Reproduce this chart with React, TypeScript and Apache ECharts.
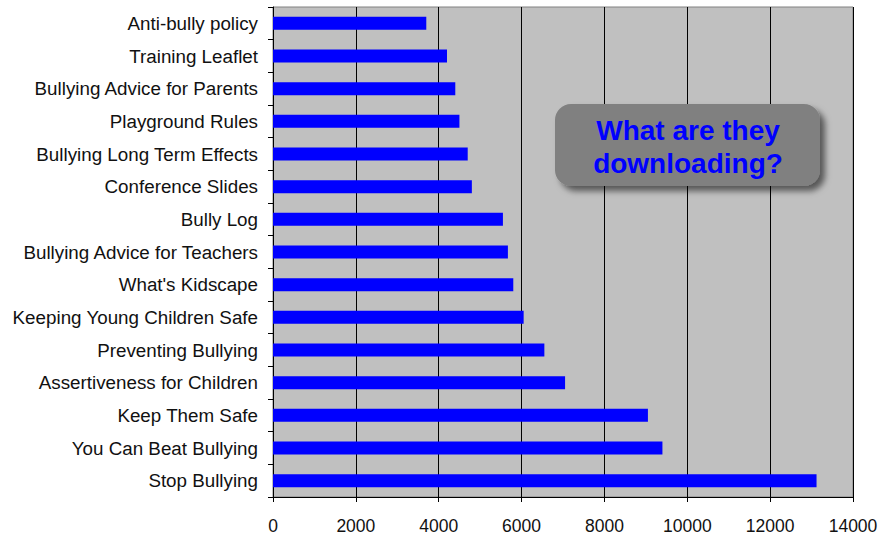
import React, { useEffect, useRef } from "react";
import * as echarts from "echarts";

const categories = [
  "Anti-bully policy",
  "Training Leaflet",
  "Bullying Advice for Parents",
  "Playground Rules",
  "Bullying Long Term Effects",
  "Conference Slides",
  "Bully Log",
  "Bullying Advice for Teachers",
  "What's Kidscape",
  "Keeping Young Children Safe",
  "Preventing Bullying",
  "Assertiveness for Children",
  "Keep Them Safe",
  "You Can Beat Bullying",
  "Stop Bullying",
];

const downloads = [
  3700, 4200, 4400, 4500, 4700, 4800, 5550, 5670, 5800, 6050, 6550, 7050, 9050,
  9400, 13120,
];

const calloutLines = ["What are they", "downloading?"];

export default function App() {
  const ref = useRef<HTMLDivElement>(null);

  useEffect(() => {
    if (!ref.current) return;
    const chart = echarts.init(ref.current, undefined, { renderer: "svg" });
    const font = "'Liberation Sans', Arial, sans-serif";
    chart.setOption({
      animation: false,
      backgroundColor: "#ffffff",
      grid: {
        left: 273,
        right: 35,
        top: 7,
        bottom: 37,
        show: true,
        backgroundColor: "#c0c0c0",
        borderColor: "#808080",
        borderWidth: 1,
      },
      xAxis: {
        type: "value",
        min: 0,
        max: 14000,
        interval: 2000,
        axisLine: { show: true, lineStyle: { color: "#000", width: 1 } },
        axisTick: { show: true, inside: false, length: 5, lineStyle: { color: "#000" } },
        splitLine: { show: true, lineStyle: { color: "#000", width: 1 } },
        axisLabel: {
          color: "#111",
          fontSize: 17.5,
          fontFamily: font,
          margin: 20,
          formatter: (v: number) => String(v),
        },
      },
      yAxis: {
        type: "category",
        inverse: true,
        data: categories,
        axisLine: { show: true, lineStyle: { color: "#000", width: 1 } },
        axisTick: { show: true, inside: false, length: 5, alignWithLabel: false, lineStyle: { color: "#000" } },
        splitLine: { show: false },
        axisLabel: {
          color: "#111",
          fontSize: 18.8,
          fontFamily: font,
          margin: 15,
        },
      },
      series: [
        {
          type: "bar",
          data: downloads,
          barWidth: 13,
          itemStyle: { color: "#0000ff" },
          silent: true,
        },
      ],
      graphic: [
        {
          type: "rect",
          shape: { x: 555, y: 104, width: 265, height: 82, r: 16 },
          style: {
            fill: "#808080",
            shadowBlur: 6,
            shadowOffsetX: 5,
            shadowOffsetY: 5,
            shadowColor: "rgba(0,0,0,0.55)",
          },
          z: 100,
        },
        {
          type: "text",
          x: 688,
          y: 147,
          style: {
            text: calloutLines.join("\n"),
            fill: "#0000ff",
            font: `bold 28px ${font}`,
            textAlign: "center",
            textVerticalAlign: "middle",
            lineHeight: 33,
          },
          z: 101,
        },
      ],
    });
    return () => chart.dispose();
  }, []);

  return (
    <div
      ref={ref}
      style={{ position: "fixed", left: 0, top: 0, width: 888, height: 535 }}
    />
  );
}
